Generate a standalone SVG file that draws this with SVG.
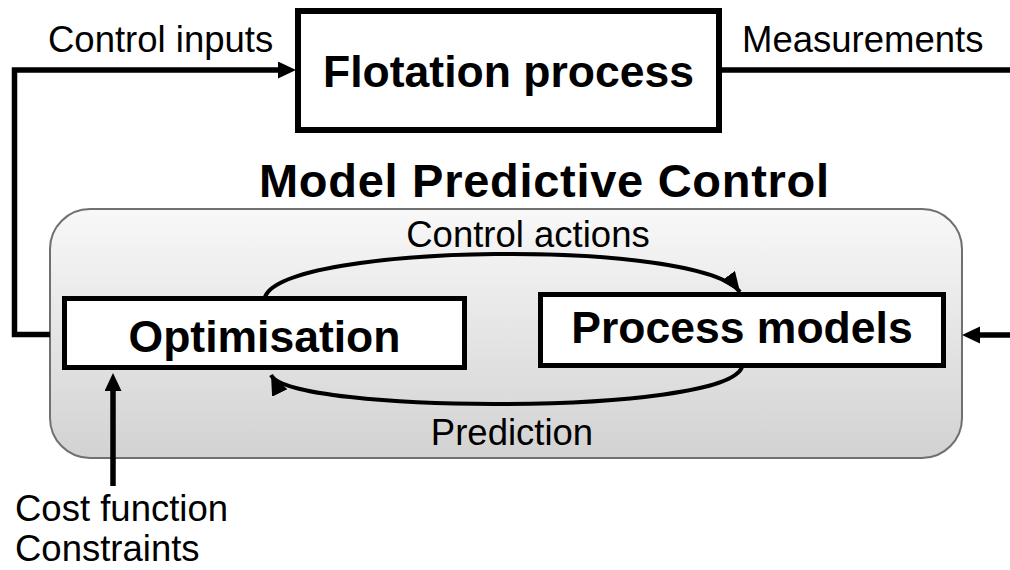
<svg xmlns="http://www.w3.org/2000/svg" width="1010" height="570" viewBox="0 0 1010 570">
  <defs>
    <linearGradient id="mpcGrad" x1="0" y1="0" x2="0" y2="1">
      <stop offset="0" stop-color="#f8f8f8"/>
      <stop offset="1" stop-color="#d2d2d2"/>
    </linearGradient>
    <marker id="arrowBase" markerUnits="userSpaceOnUse" markerWidth="20" markerHeight="18" refX="0" refY="8.5" orient="auto">
      <path d="M0,0 L18,8.5 L0,17 z" fill="#000"/>
    </marker>
    <marker id="arrowTip" markerUnits="userSpaceOnUse" markerWidth="22" markerHeight="18" refX="20" refY="8.5" orient="auto">
      <path d="M0,0 L20,8.5 L0,17 z" fill="#000"/>
    </marker>
  </defs>
  <style>
    .box { fill: #fff; stroke: #000; }
    .bold { font-family: "Liberation Sans", Arial, sans-serif; font-weight: bold; font-size: 44.5px; fill: #000; text-anchor: middle; }
    .label { font-family: "Liberation Sans", Arial, sans-serif; font-size: 36.5px; fill: #000; }
    .conn { fill: none; stroke: #000; stroke-width: 5.5; }
    .curve { fill: none; stroke: #000; stroke-width: 4; }
  </style>
  <rect width="1010" height="570" fill="#fff"/>

  <g id="mpc">
    <rect x="50" y="209" width="912" height="249" rx="40" ry="40" fill="url(#mpcGrad)" stroke="#707070" stroke-width="2"/>
    <text class="bold" x="544" y="197" style="font-size:47px" textLength="570" lengthAdjust="spacing">Model Predictive Control</text>
  </g>

  <g id="flotation">
    <rect class="box" x="298" y="11" width="421" height="119" stroke-width="6"/>
    <text class="bold" x="508.5" y="87">Flotation process</text>
  </g>

  <g id="optimisation">
    <rect class="box" x="64.5" y="298.5" width="400" height="69" stroke-width="5"/>
    <text class="bold" x="264.5" y="352">Optimisation</text>
  </g>

  <g id="process-models">
    <rect class="box" x="540.5" y="294.5" width="403" height="71" stroke-width="5"/>
    <text class="bold" x="742" y="343">Process models</text>
  </g>

  <g id="connectors">
    <path class="conn" d="M50,334.5 H14.5 V70 H278" marker-end="url(#arrowBase)"/>
    <path class="conn" d="M719,70 H1013.5 V335 H980" marker-end="url(#arrowBase)"/>
    <path class="conn" d="M113,486 V391" marker-end="url(#arrowBase)"/>
    <path class="curve" d="M265,297 C285,243 700,238 740,292" marker-end="url(#arrowTip)"/>
    <path class="curve" d="M742,367 C725,416 290,414 271,375" marker-end="url(#arrowTip)"/>
  </g>

  <g id="labels">
    <text class="label" x="48" y="52">Control inputs</text>
    <text class="label" x="742" y="52">Measurements</text>
    <text class="label" x="528" y="247" text-anchor="middle">Control actions</text>
    <text class="label" x="512" y="445" text-anchor="middle">Prediction</text>
    <text class="label" x="15" y="521">Cost function</text>
    <text class="label" x="15" y="561">Constraints</text>
  </g>
</svg>
